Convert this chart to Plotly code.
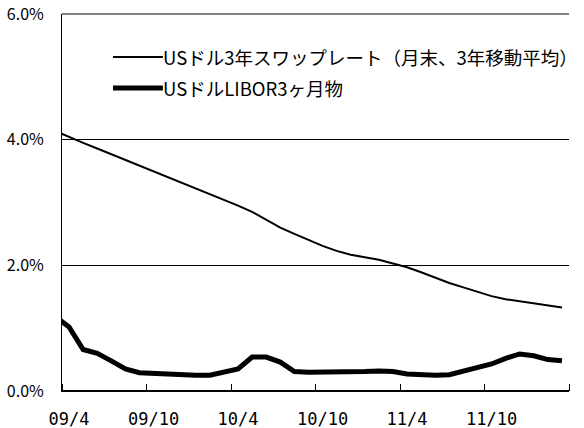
import plotly.graph_objects as go
import numpy as np

# month-end observations, Mar-2009 .. Mar-2012
months = ["09/3", "09/4", "09/5", "09/6", "09/7", "09/8", "09/9", "09/10", "09/11", "09/12",
          "10/1", "10/2", "10/3", "10/4", "10/5", "10/6", "10/7", "10/8", "10/9", "10/10", "10/11", "10/12",
          "11/1", "11/2", "11/3", "11/4", "11/5", "11/6", "11/7", "11/8", "11/9", "11/10", "11/11", "11/12",
          "12/1", "12/2", "12/3"]
swap3y_ma = [4.14, 4.04, 3.95, 3.86, 3.77, 3.68, 3.59, 3.50, 3.41, 3.32,
             3.23, 3.14, 3.05, 2.95, 2.85, 2.73, 2.60, 2.50, 2.40, 2.31, 2.23, 2.17,
             2.13, 2.09, 2.03, 1.97, 1.89, 1.80, 1.72, 1.65, 1.58, 1.51, 1.46, 1.43,
             1.40, 1.37, 1.33]
libor3m = [1.19, 1.02, 0.66, 0.60, 0.48, 0.35, 0.29, 0.28, 0.26, 0.25,
           0.25, 0.25, 0.30, 0.35, 0.54, 0.54, 0.46, 0.31, 0.30, 0.30, 0.31, 0.31,
           0.31, 0.32, 0.31, 0.27, 0.25, 0.25, 0.26, 0.32, 0.37, 0.43, 0.52, 0.59,
           0.56, 0.50, 0.48]
series_names = ["USドル3年スワップレート（月末、3年移動平均）", "USドルLIBOR3ヶ月物"]
tick_labels = ["09/4", "09/10", "10/4", "10/10", "11/4", "11/10"]
y_ticks = [0, 2, 4, 6]

# category centres: Apr-2009 is category 0 (centre 0.5)
x = np.arange(len(months)) - 0.5

font = "Noto Sans CJK JP, Liberation Sans, sans-serif"
mono = "DejaVu Sans Mono, monospace"

fig = go.Figure()
fig.add_trace(go.Scatter(x=x, y=swap3y_ma, mode="lines", name=series_names[0],
                         line=dict(color="black", width=2)))
fig.add_trace(go.Scatter(x=x, y=libor3m, mode="lines", name=series_names[1],
                         line=dict(color="black", width=5)))

# manual legend (sample line + text)
for i, (name, w) in enumerate(zip(series_names, [2, 5])):
    yy = 0.886 - i * 0.082
    fig.add_shape(type="line", xref="paper", yref="paper", x0=0.1006, x1=0.199, y0=yy, y1=yy,
                  line=dict(color="black", width=w))
    fig.add_annotation(xref="paper", yref="paper", x=0.199, y=yy, text=name, showarrow=False,
                       xanchor="left", yanchor="middle", xshift=-2,
                       font=dict(size=18.5, color="black", family=font))

# frame lines at the plot's top (6% grid) and bottom (x axis), which plotly may drop at range ends
fig.add_shape(type="line", xref="paper", yref="paper", x0=0, x1=1, y0=1, y1=1,
              line=dict(color="black", width=1), layer="below")
fig.add_shape(type="line", xref="paper", yref="paper", x0=0, x1=1, y0=0.001, y1=0.001,
              line=dict(color="black", width=1.2), layer="above")

fig.update_layout(
    width=584, height=428,
    margin=dict(l=62, r=15, t=14, b=37, autoexpand=False),
    paper_bgcolor="white", plot_bgcolor="white",
    showlegend=False,
    font=dict(family=font, color="black"),
    xaxis=dict(range=[0, 36], tickmode="array", tickvals=[0.5 + 6 * i for i in range(len(tick_labels))],
               ticktext=tick_labels, ticks="", showgrid=False, zeroline=False,
               showline=True, linecolor="black", linewidth=1, automargin=False,
               tickfont=dict(size=17, family=mono), ticklabelstandoff=13,
               minor=dict(tickmode="array", tickvals=list(range(0, 37, 6)), ticks="inside",
                          ticklen=7, tickcolor="black", tickwidth=1, showgrid=False)),
    yaxis=dict(range=[0, 6], tickmode="array", tickvals=y_ticks,
               ticktext=[f"{v:.1f}%" for v in y_ticks], ticks="inside", ticklen=6,
               tickcolor="black", showgrid=True, gridcolor="black", gridwidth=1,
               zeroline=False, showline=True, linecolor="black", linewidth=1, automargin=False,
               tickfont=dict(size=16, family=font), ticklabelstandoff=14),
)

# remove the default 8px page margin so the 584x428 figure fills the window
fig.write_html("out.html", config={"displayModeBar": False},
               post_script="document.body.style.margin='0';")
